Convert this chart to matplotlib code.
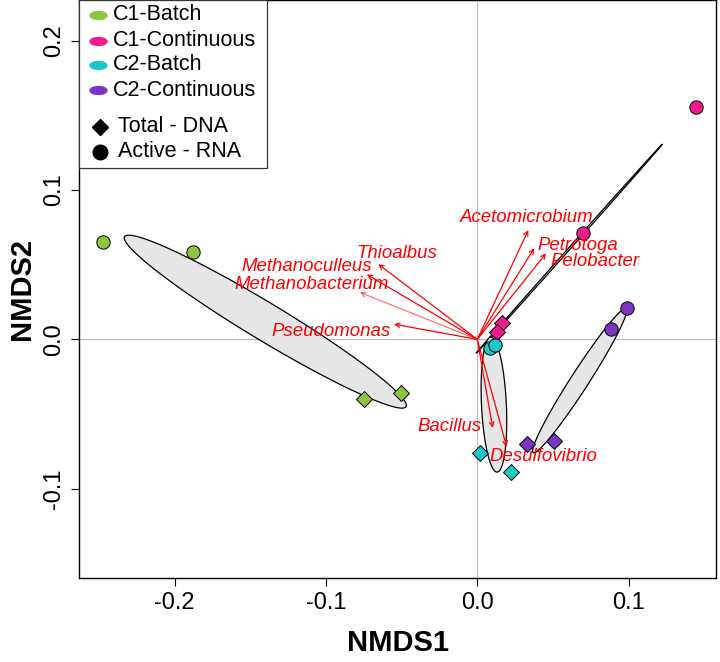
import numpy as np
import matplotlib
matplotlib.use('Agg')
import matplotlib.pyplot as plt
from matplotlib.path import Path
from matplotlib.transforms import Affine2D
from matplotlib.patches import Rectangle

plt.rcParams['font.family'] = ['Liberation Sans', 'DejaVu Sans']

# groups: RNA (circles) and DNA (diamonds) sample scores
groups = ['C1-Batch', 'C1-Continuous', 'C2-Batch', 'C2-Continuous']
colors = ['#8CC63F', '#EE1C8E', '#1EC6C8', '#7D33C4']
rna_x = [[-0.247, -0.188], [0.1442, 0.0700], [0.0084, 0.0117], [0.0987, 0.0885]]
rna_y = [[0.0654, 0.0585], [0.1558, 0.0710], [-0.0060, -0.0038], [0.0212, 0.0069]]
dna_x = [[-0.0748, -0.0503], [0.0161, 0.0128], [0.0018, 0.0221], [0.0326, 0.0509]]
dna_y = [[-0.0402, -0.0362], [0.0111, 0.0051], [-0.0760, -0.0891], [-0.0701, -0.0683]]

# fitted taxa vectors
taxa = ['Acetomicrobium', 'Petrotoga', 'Pelobacter', 'Thioalbus', 'Methanoculleus',
        'Methanobacterium', 'Pseudomonas', 'Bacillus', 'Desulfovibrio']
vec_x = [0.0337, 0.0376, 0.0454, -0.0654, -0.0730, -0.0775, -0.055, 0.0102, 0.0194]
vec_y = [0.0732, 0.0610, 0.0576, 0.0504, 0.0435, 0.0315, 0.0102, -0.0592, -0.0719]
lab_x = [0.033, 0.0667, 0.0777, -0.0532, -0.1127, -0.1094, -0.0966, -0.018, 0.0436]
lab_y = [0.0815, 0.0632, 0.0524, 0.0576, 0.0491, 0.0370, 0.0056, -0.0585, -0.0782]


def sd_ellipse(x, y, n=200):
    pts = np.column_stack([x, y])
    c = pts.mean(axis=0)
    vals, vecs = np.linalg.eigh(np.cov(pts.T))
    t = np.linspace(0, 2 * np.pi, n)
    e = vecs @ (np.sqrt(np.clip(vals, 0, None))[:, None] * np.vstack([np.cos(t), np.sin(t)]))
    return c[0] + e[0], c[1] + e[1]


fig = plt.figure(figsize=(7.2, 6.62), dpi=100)
ax = fig.add_axes([79.3 / 720, 1 - 578.3 / 662, 636.7 / 720, 578.3 / 662])
ax.set_xlim(-0.2629, 0.1577)
ax.set_ylim(-0.160, 0.2273)

ax.axhline(0, color='#BBBBBB', lw=0.8, zorder=0)
ax.axvline(0, color='#BBBBBB', lw=0.8, zorder=0)

for i in range(4):
    ex, ey = sd_ellipse(rna_x[i] + dna_x[i], rna_y[i] + dna_y[i])
    ax.fill(ex, ey, facecolor='#E6E6E6', edgecolor='black', lw=0.9, zorder=2)
    ax.plot(rna_x[i], rna_y[i], 'o', ms=9.6, mfc=colors[i], mec='black', mew=0.7, zorder=3)
    ax.plot(dna_x[i], dna_y[i], 'D', ms=8, mfc=colors[i], mec='black', mew=0.7, zorder=3)

for i, name in enumerate(taxa):
    a = 0.55 if name == 'Methanobacterium' else 1.0
    ax.annotate('', xy=(vec_x[i], vec_y[i]), xytext=(0, 0),
                arrowprops=dict(arrowstyle='->', color='red', lw=0.9, alpha=a,
                                shrinkA=0, shrinkB=0, mutation_scale=8), zorder=4)
    ax.text(lab_x[i], lab_y[i], name, color='red', style='italic', fontsize=13.4,
            ha='center', va='center', zorder=5)

ax.set_xticks([-0.2, -0.1, 0.0, 0.1])
ax.set_yticks([-0.1, 0.0, 0.1, 0.2])
ax.set_xticklabels(['-0.2', '-0.1', '0.0', '0.1'])
ax.set_yticklabels(['-0.1', '0.0', '0.1', '0.2'], rotation=90, va='center')
ax.tick_params(labelsize=17, length=6, width=0.8, pad=4)
for s in ax.spines.values():
    s.set_linewidth(1.0)

fig.text(397.6 / 720, 1 - 643 / 662, 'NMDS1', fontsize=21, fontweight='bold', ha='center', va='center')
fig.text(22 / 720, 1 - 289 / 662, 'NMDS2', fontsize=21, fontweight='bold', ha='center', va='center',
         rotation=90)

# legend drawn by hand so the gap between the two blocks matches
def px(xp, yp):
    return (xp - 79.3) / 636.7, (578.3 - yp) / 578.3

bx0, by0 = px(79.3, 168.3)
bx1, by1 = px(266.7, 0)
ax.add_patch(Rectangle((bx0, by0), bx1 - bx0, by1 - by0, transform=ax.transAxes,
                       facecolor='white', edgecolor='#333333', lw=0.9, zorder=6, clip_on=False))
oval = Path.unit_circle().transformed(Affine2D().scale(1.0, 0.47))
rows = [15, 40.7, 65, 90]
for i, g in enumerate(groups):
    mx, my = px(98.3, rows[i])
    ax.plot([mx], [my], marker=oval, ms=12.2, color=colors[i], mec=colors[i],
            transform=ax.transAxes, zorder=7, clip_on=False)
    tx, ty = px(112.7, rows[i])
    ax.text(tx, ty, g, transform=ax.transAxes, fontsize=15.5, va='center', ha='left', zorder=7)
for yrow, mk, ms, lab in [(126.7, 'D', 8.5, 'Total - DNA'), (151.7, 'o', 10.5, 'Active - RNA')]:
    mx, my = px(100, yrow)
    ax.plot([mx], [my], marker=mk, ms=ms, color='black', transform=ax.transAxes, zorder=7,
            clip_on=False)
    tx, ty = px(118.3, yrow)
    ax.text(tx, ty, lab, transform=ax.transAxes, fontsize=15.5, va='center', ha='left', zorder=7)

fig.savefig('out.png', dpi=100)
